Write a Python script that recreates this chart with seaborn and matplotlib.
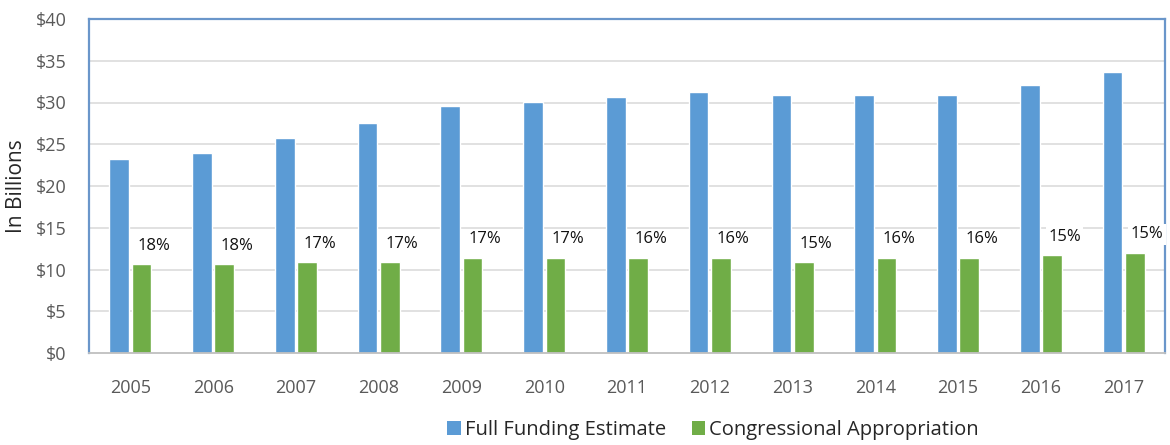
import matplotlib
matplotlib.use("Agg")
import matplotlib.pyplot as plt
import seaborn as sns
import pandas as pd
from matplotlib.patches import Patch

years = ["2005", "2006", "2007", "2008", "2009", "2010", "2011",
         "2012", "2013", "2014", "2015", "2016", "2017"]
full_funding = [23.2, 24.0, 25.8, 27.6, 29.6, 30.1, 30.7,
                31.3, 30.9, 30.9, 30.9, 32.1, 33.6]
appropriation = [10.6, 10.6, 10.9, 10.9, 11.4, 11.4, 11.4,
                 11.4, 10.9, 11.4, 11.4, 11.7, 12.0]
pct_labels = ["18%", "18%", "17%", "17%", "17%", "17%", "16%",
              "16%", "15%", "16%", "16%", "15%", "15%"]
series_names = ["Full Funding Estimate", "Congressional Appropriation"]

df = pd.DataFrame({
    "Year": years * 2,
    "Value": full_funding + appropriation,
    "Series": [series_names[0]] * len(years) + [series_names[1]] * len(years),
})

sns.set_theme(style="white")
plt.rcParams["font.family"] = ["Open Sans", "DejaVu Sans"]

BLUE = "#5B9BD5"
GREEN = "#70AD47"
FRAME = "#6A96CA"

fig = plt.figure(figsize=(11.7, 4.45), dpi=100)
ax = fig.add_axes([89 / 1170, 1 - 353 / 445, (1165 - 89) / 1170, (353 - 19) / 445])

sns.barplot(data=df, x="Year", y="Value", hue="Series", order=years,
            hue_order=series_names, palette=[BLUE, GREEN],
            width=0.54, gap=0.12, saturation=1, legend=False, ax=ax, zorder=3)

ax.set_ylim(0, 40)
ax.set_yticks(range(0, 41, 5))
ax.set_yticklabels([f"\\${v}" for v in range(0, 41, 5)])
ax.set_xlim(-0.5, len(years) - 0.5)
for v in range(5, 40, 5):
    ax.axhline(v, color="#D9D9D9", lw=1.1, zorder=1)

for side in ["top", "left", "right"]:
    ax.spines[side].set_color(FRAME)
    ax.spines[side].set_linewidth(1.6)
ax.spines["bottom"].set_color("#BFBFBF")
ax.spines["bottom"].set_linewidth(1.3)
ax.spines["bottom"].set_zorder(4)

ax.tick_params(axis="x", length=0, pad=19, labelsize=13, labelcolor="#595959")
ax.tick_params(axis="y", length=0, pad=16, labelsize=13, labelcolor="#595959")
ax.set_xlabel("")
ax.set_ylabel("In Billions", fontsize=15, color="#262626")
ax.yaxis.set_label_coords((27 - 89) / 1076, 0.5)

green_bars = ax.containers[1]
for bar, lab, val in zip(green_bars, pct_labels, appropriation):
    cx = bar.get_x() + bar.get_width() / 2
    ax.text(cx + 0.15, val + 2.2, lab, ha="center", va="center",
            fontsize=12, color="#111111", zorder=6, clip_on=False,
            bbox=dict(boxstyle="square,pad=0.15", fc="white", ec="none"))

handles = [Patch(facecolor=BLUE, edgecolor="none"),
           Patch(facecolor=GREEN, edgecolor="none")]
fig.legend(handles, series_names, loc="center", bbox_to_anchor=(713 / 1170, 1 - 430 / 445),
           ncol=2, frameon=False, fontsize=14.5, handlelength=0.65, handleheight=0.65,
           handletextpad=0.2, columnspacing=1.3, labelcolor="#262626")

fig.savefig("out.png", dpi=100)
